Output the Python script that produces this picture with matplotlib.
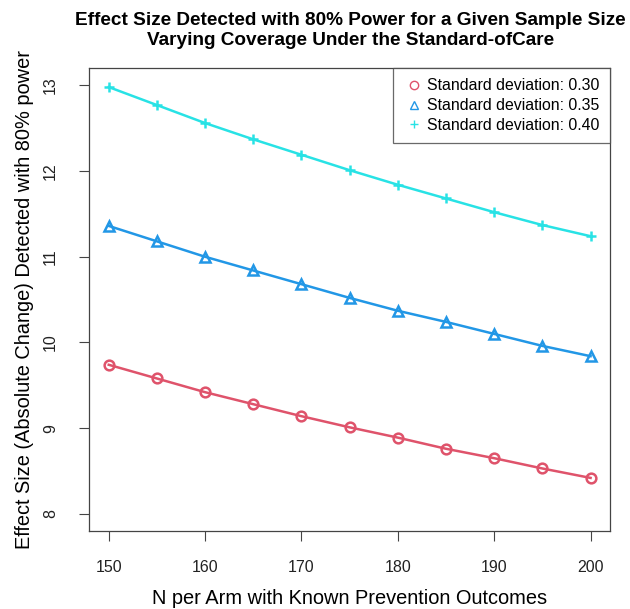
import matplotlib
matplotlib.use("Agg")
import matplotlib.pyplot as plt
from matplotlib.lines import Line2D

# sample size per arm
n_per_arm = [150, 155, 160, 165, 170, 175, 180, 185, 190, 195, 200]

# effect size detected with 80% power, one list per standard deviation
sd_030 = [9.74, 9.58, 9.42, 9.28, 9.14, 9.01, 8.89, 8.76, 8.65, 8.53, 8.42]
sd_035 = [11.36, 11.18, 11.00, 10.84, 10.68, 10.52, 10.37, 10.24, 10.10, 9.96, 9.84]
sd_040 = [12.98, 12.77, 12.56, 12.37, 12.19, 12.01, 11.84, 11.68, 11.52, 11.37, 11.24]

labels = ["Standard deviation: 0.30", "Standard deviation: 0.35", "Standard deviation: 0.40"]
colors = ["#DF536B", "#2297E6", "#28E2E5"]
markers = ["o", "^", "+"]

plt.rcParams["font.family"] = ["Liberation Sans", "DejaVu Sans"]

fig = plt.figure(figsize=(6.3, 6.09), dpi=100)
ax = fig.add_axes([0.142, 0.128, 0.826, 0.760])

# one line per standard deviation, open markers like R's pch 1/2/3
for vals, col, mk in zip([sd_030, sd_035, sd_040], colors, markers):
    ax.plot(n_per_arm, vals, color=col, lw=1.8, marker=mk, ms=7,
            mfc="none", mec=col, mew=1.8)

ax.set_xlim(148, 202)
ax.set_ylim(7.8, 13.2)
ax.set_xticks([150, 160, 170, 180, 190, 200])
ax.set_yticks([8, 9, 10, 11, 12, 13])
for lab in ax.get_yticklabels():
    lab.set_rotation(90)
    lab.set_va("center")
ax.tick_params(direction="out", length=7.5, width=0.8, colors="#444444",
               labelsize=11.5, labelcolor="#222222")
ax.tick_params(axis="x", pad=13)
ax.tick_params(axis="y", pad=15)
for sp in ax.spines.values():
    sp.set_color("#444444")
    sp.set_linewidth(0.9)

ax.set_xlabel("N per Arm with Known Prevention Outcomes", fontsize=14.4)
ax.set_ylabel("Effect Size (Absolute Change) Detected with 80% power", fontsize=14.4)
ax.xaxis.set_label_coords(0.5, -0.1447)
ax.xaxis.label.set_va("center")
ax.yaxis.set_label_coords(-0.124, 0.5)
ax.yaxis.label.set_va("center")

fig.text(0.556, 1 - 30.5 / 609, "Effect Size Detected with 80% Power for a Given Sample Size\n"
         "Varying Coverage Under the Standard-ofCare",
         ha="center", va="center", fontsize=13.7, fontweight="bold", linespacing=1.28)

# legend shows markers only, thinner than on the lines
handles = [Line2D([], [], ls="none", marker=m, color=c, mfc="none", mec=c, ms=6, mew=1)
           for m, c in zip(markers, colors)]
leg = ax.legend(handles, labels, loc="upper right", borderaxespad=0, fancybox=False,
                edgecolor="#444444", fontsize=11.4, handletextpad=0.2, handlelength=1.3,
                borderpad=0.65, labelspacing=0.3)
leg.get_frame().set_linewidth(0.9)

fig.savefig("out.png", dpi=100)
